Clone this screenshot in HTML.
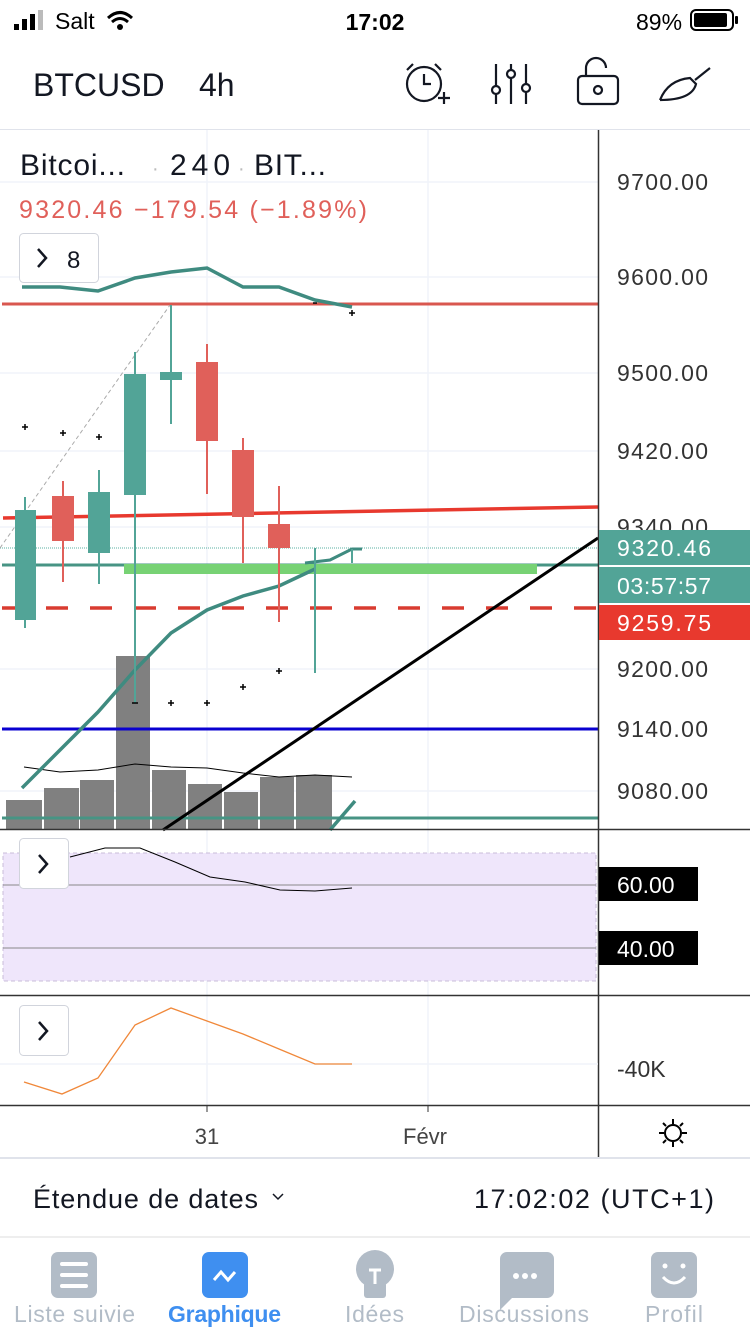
<!DOCTYPE html>
<html><head><meta charset="utf-8"><style>
html,body{margin:0;padding:0;background:#fff;}
body{width:750px;height:1334px;overflow:hidden;font-family:"Liberation Sans",sans-serif;}
</style></head><body>
<svg width="750" height="1334" viewBox="0 0 750 1334" xmlns="http://www.w3.org/2000/svg" font-family="Liberation Sans, sans-serif">
<!-- status bar -->
<g fill="#000">
<rect x="14" y="24" width="5" height="6"/><rect x="22" y="19" width="5" height="11"/><rect x="30" y="14" width="5" height="16"/><rect x="38" y="10" width="5" height="20" fill="#bbb"/>
<text x="55" y="29" font-size="23">Salt</text>
<text x="375" y="30" font-size="23" font-weight="bold" text-anchor="middle">17:02</text>
<text x="636" y="30" font-size="23">89%</text>
<rect x="691" y="10" width="42" height="20" rx="5" fill="none" stroke="#000" stroke-width="2"/>
<rect x="694" y="13" width="33" height="14" rx="2"/><rect x="735" y="16" width="3" height="8" rx="1"/>
</g>
<path d="M108 18 Q120 7 132 18 M112 22 Q120 15 128 22" stroke="#000" stroke-width="3" fill="none"/><circle cx="120" cy="27" r="3"/>
<!-- header -->
<text x="33" y="96" font-size="32" fill="#131722">BTCUSD</text>
<text x="199" y="96" font-size="32" fill="#131722">4h</text>
<g stroke="#131722" stroke-width="2.2" fill="none">
<circle cx="424" cy="84" r="17"/><path d="M424 74v10h7M407 70l6-6M441 70l-6-6M438 98h12M444 92v12"/>
<path d="M496 64v40M511 64v40M526 64v40"/><circle cx="496" cy="90" r="4" fill="#fff"/><circle cx="511" cy="74" r="4" fill="#fff"/><circle cx="526" cy="88" r="4" fill="#fff"/>
<rect x="578" y="76" width="40" height="28" rx="4"/><path d="M586 76v-8a10 10 0 0 1 20 0"/><circle cx="598" cy="90" r="4"/>
<path d="M660 100 Q668 80 690 78 L696 84 Q692 100 660 100 M695 80 L710 68"/>
</g>
<line x1="0" y1="129.5" x2="750" y2="129.5" stroke="#e0e3eb" stroke-width="1"/>

<!-- grid -->
<g stroke="#f0f3fa" stroke-width="1.5">
<line x1="207" y1="130" x2="207" y2="1105"/><line x1="428" y1="130" x2="428" y2="1105"/>
<line x1="0" y1="182" x2="598" y2="182"/><line x1="0" y1="277" x2="598" y2="277"/><line x1="0" y1="373" x2="598" y2="373"/><line x1="0" y1="451" x2="598" y2="451"/><line x1="0" y1="527" x2="598" y2="527"/><line x1="0" y1="669" x2="598" y2="669"/><line x1="0" y1="791" x2="598" y2="791"/>
</g>

<!-- legend -->
<text x="20" y="175" font-size="30" fill="#131722" textLength="105">Bitcoi...</text>
<text x="152" y="175" font-size="20" fill="#bbb">·</text>
<text x="170" y="175" font-size="30" fill="#131722" textLength="60">240</text>
<text x="238" y="175" font-size="20" fill="#bbb">·</text>
<text x="254" y="175" font-size="30" fill="#131722" textLength="72">BIT...</text>
<text x="19" y="218" font-size="25" fill="#e0605a" textLength="348">9320.46 −179.54 (−1.89%)</text>
<rect x="19.5" y="233.5" width="79" height="49" rx="4" fill="#fff" stroke="#d1d4dc"/>
<path d="M38 249l8 9-8 9" stroke="#131722" stroke-width="2.5" fill="none"/>
<text x="67" y="268" font-size="24" fill="#131722">8</text>

<!-- volume -->
<g fill="#808080">
<rect x="6" y="800" width="36" height="30"/><rect x="44" y="788" width="35" height="42"/><rect x="80" y="780" width="34" height="50"/><rect x="116" y="656" width="34" height="174"/><rect x="152" y="770" width="34" height="60"/><rect x="188" y="784" width="34" height="46"/><rect x="224" y="792" width="34" height="38"/><rect x="260" y="777" width="34" height="53"/><rect x="296" y="775" width="36" height="55"/>
</g>
<polyline points="24,767 60,772 98,770 135,764 171,767 207,768 243,773 279,777 315,775 352,777" fill="none" stroke="#000" stroke-width="1"/>

<!-- lines -->
<line x1="2" y1="304" x2="598" y2="304" stroke="#d9574f" stroke-width="3"/>
<line x1="3" y1="518" x2="598" y2="507" stroke="#e8392e" stroke-width="3.5"/>
<line x1="0" y1="548" x2="598" y2="548" stroke="#5bb0a3" stroke-width="1" stroke-dasharray="1,1"/>
<line x1="0" y1="548" x2="170" y2="305" stroke="#aaa" stroke-width="1" stroke-dasharray="4,3"/>
<line x1="2" y1="565" x2="598" y2="565" stroke="#479484" stroke-width="3"/>
<rect x="124" y="564" width="413" height="10" fill="#77d274"/>
<line x1="2" y1="608" x2="598" y2="608" stroke="#d93b30" stroke-width="3.5" stroke-dasharray="22,22"/>
<line x1="2" y1="729" x2="598" y2="729" stroke="#0a00d0" stroke-width="3"/>
<line x1="2" y1="818" x2="598" y2="818" stroke="#479484" stroke-width="3"/>
<line x1="163" y1="830" x2="598" y2="538" stroke="#000" stroke-width="3"/>
<polyline points="22,287 60,287 98,291 135,278 171,272 207,268 243,287 279,287 315,300 352,307" fill="none" stroke="#3f8b80" stroke-width="3.5"/>
<polyline points="22,788 60,750 98,712 135,670 171,633 207,610 243,596 279,586 315,569" fill="none" stroke="#3f8b80" stroke-width="3.5"/>
<polyline points="305,563 330,560 352,549 362,549" fill="none" stroke="#3f8b80" stroke-width="3"/>
<line x1="330" y1="830" x2="355" y2="801" stroke="#3f8b80" stroke-width="3.5"/>

<!-- candles -->
<g stroke-width="2">
<line x1="25" y1="497" x2="25" y2="628" stroke="#52a497"/><rect x="15" y="510" width="21" height="110" fill="#52a497"/>
<line x1="63" y1="481" x2="63" y2="582" stroke="#e0605a"/><rect x="52" y="496" width="22" height="45" fill="#e0605a"/>
<line x1="99" y1="470" x2="99" y2="584" stroke="#52a497"/><rect x="88" y="492" width="22" height="61" fill="#52a497"/>
<line x1="135" y1="352" x2="135" y2="703" stroke="#52a497"/><rect x="124" y="374" width="22" height="121" fill="#52a497"/>
<line x1="171" y1="305" x2="171" y2="424" stroke="#52a497"/><rect x="160" y="372" width="22" height="8" fill="#52a497"/>
<line x1="207" y1="344" x2="207" y2="494" stroke="#e0605a"/><rect x="196" y="362" width="22" height="79" fill="#e0605a"/>
<line x1="243" y1="438" x2="243" y2="563" stroke="#e0605a"/><rect x="232" y="450" width="22" height="67" fill="#e0605a"/>
<line x1="279" y1="486" x2="279" y2="622" stroke="#e0605a"/><rect x="268" y="524" width="22" height="24" fill="#e0605a"/>
<line x1="315" y1="548" x2="315" y2="673" stroke="#52a497"/>
<line x1="352" y1="549" x2="352" y2="563" stroke="#52a497"/>
</g>
<g stroke="#000" stroke-width="1.5">
<path d="M22 427h6M25 424v6M60 433h6M63 430v6M96 437h6M99 434v6M168 703h6M171 700v6M204 703h6M207 700v6M240 687h6M243 684v6M276 671h6M279 668v6M349 313h6M352 310v6M132 703h6M313 303h4"/>
</g>

<!-- right axis -->
<line x1="598.5" y1="130" x2="598.5" y2="1158" stroke="#333" stroke-width="1.5"/>
<g font-size="23" fill="#333">
<text x="617" y="190" textLength="91">9700.00</text><text x="617" y="285" textLength="91">9600.00</text><text x="617" y="381" textLength="91">9500.00</text><text x="617" y="459" textLength="91">9420.00</text><text x="617" y="535" textLength="91">9340.00</text><text x="617" y="677" textLength="91">9200.00</text><text x="617" y="737" textLength="91">9140.00</text><text x="617" y="799" textLength="91">9080.00</text>
</g>
<rect x="599" y="530" width="151" height="35" fill="#52a497"/>
<text x="617" y="556" font-size="23" fill="#fff" textLength="94">9320.46</text>
<rect x="599" y="567" width="151" height="36" fill="#52a497"/>
<text x="617" y="594" font-size="23" fill="#fff" textLength="94">03:57:57</text>
<rect x="599" y="605" width="151" height="35" fill="#e8392e"/>
<text x="617" y="631" font-size="23" fill="#fff" textLength="94">9259.75</text>

<!-- RSI -->
<line x1="0" y1="829.5" x2="750" y2="829.5" stroke="#333" stroke-width="1.5"/>
<rect x="3" y="853" width="593" height="128" fill="#efe6fb" stroke="#c8bcd8" stroke-dasharray="4,3"/>
<line x1="3" y1="885" x2="596" y2="885" stroke="#888" stroke-width="1"/>
<line x1="3" y1="948" x2="596" y2="948" stroke="#888" stroke-width="1"/>
<polyline points="70,857 105,848 140,848 175,862 210,877 245,882 280,890 315,891 352,888" fill="none" stroke="#000" stroke-width="1"/>
<rect x="19.5" y="838.5" width="49" height="50" rx="4" fill="#fff" stroke="#d1d4dc"/>
<path d="M39 855l8 9-8 9" stroke="#131722" stroke-width="2.5" fill="none"/>
<rect x="599" y="867" width="99" height="34" fill="#000"/><text x="617" y="893" font-size="23" fill="#fff">60.00</text>
<rect x="599" y="931" width="99" height="34" fill="#000"/><text x="617" y="957" font-size="23" fill="#fff">40.00</text>

<!-- third panel -->
<line x1="0" y1="995.5" x2="750" y2="995.5" stroke="#333" stroke-width="1.5"/>
<line x1="0" y1="1064" x2="598" y2="1064" stroke="#f0f3fa" stroke-width="1.5"/>
<polyline points="24,1082 62,1094 98,1078 135,1025 171,1008 207,1021 243,1034 279,1049 315,1064 352,1064" fill="none" stroke="#f0883a" stroke-width="1.3"/>
<rect x="19.5" y="1005.5" width="49" height="50" rx="4" fill="#fff" stroke="#d1d4dc"/>
<path d="M39 1022l8 9-8 9" stroke="#131722" stroke-width="2.5" fill="none"/>
<text x="617" y="1077" font-size="23" fill="#333">-40K</text>

<!-- x axis -->
<line x1="0" y1="1105.5" x2="750" y2="1105.5" stroke="#333" stroke-width="1.5"/>
<line x1="207" y1="1105" x2="207" y2="1112" stroke="#333"/><line x1="428" y1="1105" x2="428" y2="1112" stroke="#333"/>
<text x="207" y="1144" font-size="22" fill="#444" text-anchor="middle">31</text>
<text x="425" y="1144" font-size="22" fill="#444" text-anchor="middle">Févr</text>
<g stroke="#000" stroke-width="2" fill="none"><circle cx="673" cy="1133" r="8"/><path d="M673 1119v5M673 1142v5M659 1133h5M682 1133h5M663 1123l3 3M680 1140l3 3M663 1143l3-3M680 1126l3-3"/></g>
<line x1="0" y1="1158" x2="750" y2="1158" stroke="#e0e3eb" stroke-width="2"/>

<!-- range bar -->
<text x="33" y="1208" font-size="27" fill="#131722" textLength="225">Étendue de dates</text>
<path d="M273 1194l5 5 5-5" stroke="#131722" stroke-width="1.5" fill="none"/>
<text x="474" y="1208" font-size="27" fill="#131722" textLength="240">17:02:02 (UTC+1)</text>
<line x1="0" y1="1237" x2="750" y2="1237" stroke="#e8e8e8" stroke-width="1.5"/>

<!-- tab bar -->
<rect x="51" y="1252" width="46" height="46" rx="7" fill="#b2bcc7"/>
<path d="M62 1264h24M62 1275h24M62 1286h24" stroke="#fff" stroke-width="4" stroke-linecap="round"/>
<rect x="202" y="1252" width="46" height="46" rx="7" fill="#3f8ff0"/>
<path d="M214 1280l7-8 7 8 7-8" stroke="#fff" stroke-width="3" fill="none"/>
<circle cx="375" cy="1269" r="19" fill="#b2bcc7"/><rect x="364" y="1282" width="22" height="16" rx="3" fill="#b2bcc7"/>
<path d="M369 1270h12M375 1270v14" stroke="#fff" stroke-width="3"/>
<path d="M507 1252h40a7 7 0 0 1 7 7v32a7 7 0 0 1-7 7h-35l-12 12v-51a7 7 0 0 1 7-7z" fill="#b2bcc7"/>
<circle cx="516" cy="1276" r="3" fill="#fff"/><circle cx="525" cy="1276" r="3" fill="#fff"/><circle cx="534" cy="1276" r="3" fill="#fff"/>
<rect x="651" y="1252" width="46" height="46" rx="7" fill="#b2bcc7"/>
<circle cx="665" cy="1266" r="2.5" fill="#fff"/><circle cx="683" cy="1266" r="2.5" fill="#fff"/>
<path d="M663 1277q11 12 22 0" stroke="#fff" stroke-width="3" fill="none"/>
<g font-size="23">
<text x="14" y="1322" fill="#b2bcc7" textLength="121">Liste suivie</text>
<text x="168" y="1322" fill="#3f8ff0" font-weight="bold" textLength="113">Graphique</text>
<text x="345" y="1322" fill="#b2bcc7" textLength="59">Idées</text>
<text x="459" y="1322" fill="#b2bcc7" textLength="130">Discussions</text>
<text x="645" y="1322" fill="#b2bcc7" textLength="58">Profil</text>
</g>
</svg>
</body></html>
